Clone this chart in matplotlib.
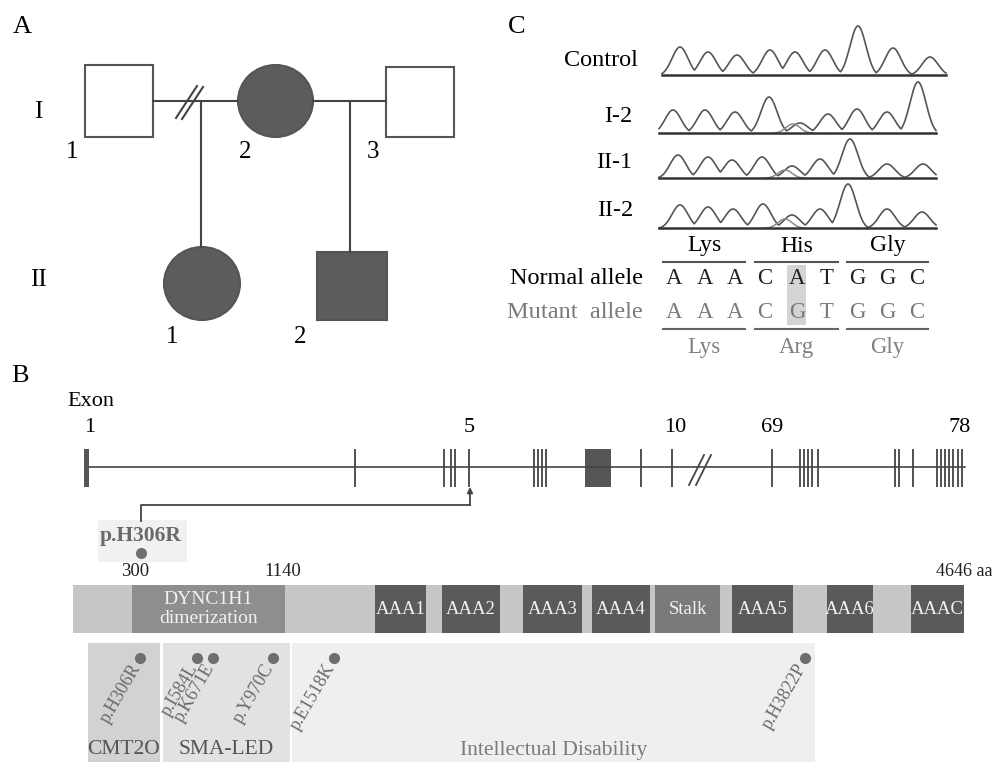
import numpy as np
import matplotlib.pyplot as plt
from matplotlib.patches import Rectangle, Ellipse

plt.rcParams['font.family'] = ['Liberation Serif', 'DejaVu Serif']

# ---------------- data ----------------
# A: pedigree
gen_labels = ["I", "II"]
ped_numbers = ["1", "2", "3", "1", "2"]
ped_female = [False, True, False, True, False]
ped_affected = [False, True, False, True, True]

# C: Sanger traces (peak heights, px)
samples = ["Control", "I-2", "II-1", "II-2"]
ctrl_peaks = [28, 23, 20, 25, 23, 25, 49, 27, 18]
i2_peaks = [23, 23, 21, 36, 10, 19, 24, 21, 51]
ii1_peaks = [23, 21, 18, 21, 12, 19, 39, 14, 14]
ii2_peaks = [23, 21, 19, 24, 13, 19, 44, 19, 16]
het_peaks = [0, 9, 8, 9]          # second (G) allele under the 5th base
bases_normal = list("AAACATGGC")
bases_mutant = list("AAACGTGGC")
codons_normal = ["Lys", "His", "Gly"]
codons_mutant = ["Lys", "Arg", "Gly"]

# B: gene / protein
exon_numbers = ["1", "5", "10", "69", "78"]
domain_names = ["DYNC1H1\ndimerization", "AAA1", "AAA2", "AAA3", "AAA4",
                "Stalk", "AAA5", "AAA6", "AAAC"]
aa_ticks = ["300", "1140", "4646 aa"]
disease_names = ["CMT2O", "SMA-LED", "Intellectual Disability"]
mutations = ["p.H306R", "p.I584L", "p.K671E", "p.Y970C", "p.E1518K", "p.H3822P"]

# ---------------- layout (pixel coords) ----------------
ped_cx = [119, 275.5, 420, 202, 352]
ped_cy = [101, 101, 102, 283.5, 286]
ped_w = [68, 75, 68, 76, 70]
ped_h = [72, 72, 70, 73, 68]
ped_num_xy = [(72, 152), (245, 152), (373, 152), (172, 337), (300, 337)]

trace_x = [
    [680, 708, 737, 770, 795, 825, 858, 893, 930],
    [673, 705, 735, 769, 800, 828, 857, 887, 918],
    [678, 708, 732, 762, 792, 820, 850, 887, 923],
    [680, 708, 733, 763, 792, 820, 848, 887, 922],
]
het_x = [0, 793, 785, 785]
trace_base = [75, 133, 178, 228]
trace_span = [(662, 946), (659, 936), (659, 936), (659, 936)]
label_xy = [(638, 61), (632, 116), (632, 162), (633, 210)]
base_x = [674, 705, 735, 765, 797, 827, 857, 887, 917]
codon_span = [(663, 745), (755, 838), (847, 928)]

exon_label_x = [90, 469, 675, 772, 960]
exon_bars = [(86, 5), (355, 2), (444, 2), (451, 2), (455, 2), (469, 2),
             (534, 2), (538, 2), (542, 2), (546, 2), (598, 26), (641, 2),
             (672, 2), (772, 2), (800, 2), (804, 2), (808, 2), (812, 2),
             (818, 2), (895, 2), (899, 2), (913, 2), (937, 2), (941, 2),
             (945, 2), (949, 2), (953, 2), (958, 2), (962, 2)]
domain_span = [(132, 285), (375, 426), (442, 500), (523, 582), (592, 650),
               (655, 720), (732, 793), (827, 873), (911, 964)]
domain_color = ["#8e8e8e"] + ["#5a5a5a"] * 4 + ["#7a7a7a"] + ["#5a5a5a"] * 3
disease_span = [(88, 160), (163, 290), (292, 815)]
disease_color = ["#d2d2d2", "#e2e2e2", "#efefef"]
disease_text = ["#555555", "#555555", "#7a7a7a"]
mut_x = [140, 197, 213, 273, 334, 805]

fig = plt.figure(figsize=(9.94, 7.62), dpi=100)
ax = fig.add_axes([0, 0, 1, 1])
ax.set_xlim(0, 994)
ax.set_ylim(762, 0)
ax.axis('off')

lc = "#444444"

# ---------------- A ----------------
ax.text(22, 27, "A", fontsize=19, ha='center', va='center')
ax.text(38, 112, gen_labels[0], fontsize=18, ha='center', va='center')
ax.text(38, 280, gen_labels[1], fontsize=18, ha='center', va='center')

ax.plot([153, 238], [101, 101], color=lc, lw=1.5)
ax.plot([313, 386], [101, 101], color=lc, lw=1.5)
ax.plot([201, 201], [101, 247], color=lc, lw=1.5)
ax.plot([350, 350], [101, 252], color=lc, lw=1.5)
ax.plot([176, 197], [118, 86], color=lc, lw=1.5)
ax.plot([182, 203], [119, 87], color=lc, lw=1.5)

for i in range(len(ped_numbers)):
    fc = "#5c5c5c" if ped_affected[i] else "white"
    if ped_female[i]:
        p = Ellipse((ped_cx[i], ped_cy[i]), ped_w[i], ped_h[i], fc=fc, ec="#555555", lw=1.5)
    else:
        p = Rectangle((ped_cx[i] - ped_w[i] / 2, ped_cy[i] - ped_h[i] / 2), ped_w[i], ped_h[i],
                      fc=fc, ec="#555555", lw=1.5)
    ax.add_patch(p)
    ax.text(*ped_num_xy[i], ped_numbers[i], fontsize=18, ha='center', va='center')

# ---------------- C ----------------
ax.text(517, 27, "C", fontsize=19, ha='center', va='center')


def bump(xx, c, h, w=21, s=8.0):
    g = np.exp(-0.5 * ((xx - c) / s) ** 2)
    g0 = np.exp(-0.5 * (w / s) ** 2)
    return np.where(np.abs(xx - c) < w, h * (g - g0) / (1 - g0), 0)


all_peaks = [ctrl_peaks, i2_peaks, ii1_peaks, ii2_peaks]
for k in range(4):
    ax.text(*label_xy[k], samples[k], fontsize=17.5, ha='right', va='center')
    x0, x1 = trace_span[k]
    xx = np.linspace(x0, x1, 600)
    env = np.max([bump(xx, c, h) for c, h in zip(trace_x[k], all_peaks[k])], axis=0)
    ax.plot(xx, trace_base[k] - env, color="#555555", lw=1.2)
    if het_peaks[k]:
        hx = np.linspace(het_x[k] - 20, het_x[k] + 20, 80)
        ax.plot(hx, trace_base[k] - bump(hx, het_x[k], het_peaks[k], w=19, s=7),
                color="#8a8a8a", lw=1.1)
    ax.plot([x0, x1], [trace_base[k], trace_base[k]], color="#333333", lw=1.8)

# codons
ax.add_patch(Rectangle((787, 265), 19, 60, fc="#d4d4d4", ec="none"))
for j in range(3):
    cx = (codon_span[j][0] + codon_span[j][1]) / 2
    ax.text(cx, 246, codons_normal[j], fontsize=17, ha='center', va='center')
    ax.plot(codon_span[j], [262, 262], color="#555555", lw=1.5)
    ax.plot(codon_span[j], [329, 329], color="#666666", lw=1.5)
    ax.text(cx, 347, codons_mutant[j], fontsize=16.5, ha='center', va='center',
            color="#808080")
ax.text(643, 279, "Normal allele", fontsize=17.5, ha='right', va='center')
ax.text(643, 313, "Mutant  allele", fontsize=17.5, ha='right', va='center',
        color="#7a7a7a")
for bx, bn, bm in zip(base_x, bases_normal, bases_mutant):
    ax.text(bx, 279, bn, fontsize=16.5, ha='center', va='center', color="#222222")
    ax.text(bx, 313, bm, fontsize=16.5, ha='center', va='center', color="#7a7a7a")

# ---------------- B ----------------
ax.text(20, 376, "B", fontsize=19, ha='center', va='center')
ax.text(67, 401, "Exon", fontsize=16, ha='left', va='center')
for lx, ln in zip(exon_label_x, exon_numbers):
    ax.text(lx, 428, ln, fontsize=16, ha='center', va='center')

ax.plot([89, 965], [467, 467], color=lc, lw=1.2)
for ex, ew in exon_bars:
    ax.add_patch(Rectangle((ex - ew / 2, 449), ew, 38, fc="#555555", ec="none"))
ax.plot([689, 704], [485, 455], color=lc, lw=1.3)
ax.plot([696, 711], [485, 455], color=lc, lw=1.3)

# arrow from exon 5 to mutation callout
ax.plot([141, 141, 470], [521, 505, 505], color=lc, lw=1.3)
ax.annotate("", xy=(470, 487), xytext=(470, 505),
            arrowprops=dict(arrowstyle="-|>", color=lc, lw=1.3, mutation_scale=8,
                            shrinkA=0, shrinkB=0))
ax.add_patch(Rectangle((98, 520), 89, 42, fc="#f1f1f1", ec="none"))
ax.text(141, 536, mutations[0], fontsize=15.5, fontweight='bold', ha='center',
        va='center', color="#6a6a6a")
ax.plot(141, 553, 'o', ms=8, color="#6e6e6e", mec="none")

# protein bar
ax.text(135, 572, aa_ticks[0], fontsize=13.5, ha='center', va='center', color="#222222")
ax.text(283, 572, aa_ticks[1], fontsize=13.5, ha='center', va='center', color="#222222")
ax.text(993, 571, aa_ticks[2], fontsize=13, ha='right', va='center', color="#222222")
ax.add_patch(Rectangle((73, 585), 891, 48, fc="#c6c6c6", ec="none"))
for (d0, d1), dn, dc in zip(domain_span, domain_names, domain_color):
    r = Rectangle((d0, 585), d1 - d0, 48, fc=dc, ec="none")
    ax.add_patch(r)
    t = ax.text((d0 + d1) / 2, 609, dn, fontsize=14 if dn.startswith("DYN") else 13.5,
                ha='center', va='center', color="#f2f2f2", linespacing=1.15)
    t.set_clip_path(r)

# disease groups and mutations
for (s0, s1), dn, dc, tc in zip(disease_span, disease_names, disease_color, disease_text):
    ax.add_patch(Rectangle((s0, 643), s1 - s0, 119, fc=dc, ec="none"))
    ax.text((s0 + s1) / 2, 750, dn, fontsize=15.5, ha='center', va='center', color=tc)
for mx, mn in zip(mut_x, mutations):
    ax.plot(mx, 658, 'o', ms=8, color="#6e6e6e", mec="none")
    ax.text(mx - 3, 665, mn, fontsize=13, rotation=60, rotation_mode='anchor',
            ha='right', va='center', color="#6a6a6a")

fig.savefig("out.png", dpi=100)
